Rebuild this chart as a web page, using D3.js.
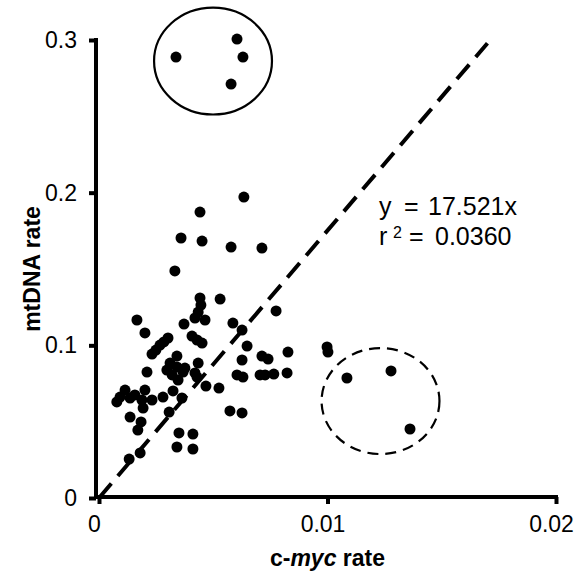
<!DOCTYPE html>
<head>
<meta charset="utf-8">
<title>mtDNA vs c-myc</title>
<style>
  body { margin: 0; background: #fff; }
  svg text { font-family: Arial, "Liberation Sans", sans-serif; fill: #000; }
</style>
</head>
<body>
<div id="chart"></div>

<script src="https://d3js.org/d3.v7.min.js"></script>
<script>
// c-myc rate (x) and mtDNA rate (y) for each sample
const cmycRate = [
  0.00337, 0.00604, 0.00630, 0.00578,
  0.00634, 0.00442, 0.00359, 0.00451, 0.00578, 0.00713, 0.00332,
  0.00442, 0.00446, 0.00434, 0.00420, 0.00464, 0.00530, 0.00166, 0.00201, 0.00372, 0.00586,
  0.00626, 0.00775, 0.00407, 0.00451, 0.00429, 0.00302, 0.00284, 0.00267, 0.00249, 0.00648,
  0.00827, 0.00713, 0.00740, 0.00626, 0.00232, 0.00341, 0.00434, 0.00311, 0.00341, 0.00376,
  0.00297, 0.00210, 0.00604, 0.00630, 0.00705, 0.00727, 0.00765, 0.00823, 0.00320, 0.00346,
  0.00420, 0.00429, 0.00468, 0.00525, 0.00114, 0.00201, 0.00092, 0.00078, 0.00136, 0.00157,
  0.00188, 0.00232, 0.00193, 0.00280, 0.00324, 0.00363, 0.00136, 0.00184, 0.00170, 0.00307,
  0.00573, 0.00626, 0.00350, 0.00411, 0.00341, 0.00411, 0.00180, 0.00132, 0.00368,
  0.00998, 0.01002, 0.01085, 0.01278, 0.01361
];
const mtdnaRate = [
  0.2888, 0.3006, 0.2888, 0.2711,
  0.1971, 0.1873, 0.1703, 0.1683, 0.1644, 0.1637, 0.1487,
  0.1310, 0.1264, 0.1218, 0.1179, 0.1166, 0.1303, 0.1166, 0.1081, 0.1139, 0.1146,
  0.1100, 0.1225, 0.1061, 0.1015, 0.1035, 0.1048, 0.1022, 0.1002, 0.0969, 0.0995,
  0.0956, 0.0930, 0.0910, 0.0904, 0.0943, 0.0930, 0.0884, 0.0884, 0.0858, 0.0851,
  0.0838, 0.0825, 0.0806, 0.0792, 0.0806, 0.0806, 0.0812, 0.0819, 0.0806, 0.0773,
  0.0819, 0.0792, 0.0733, 0.0720, 0.0707, 0.0707, 0.0661, 0.0629, 0.0655, 0.0675,
  0.0642, 0.0642, 0.0589, 0.0661, 0.0701, 0.0655, 0.0530, 0.0498, 0.0445, 0.0563,
  0.0570, 0.0557, 0.0426, 0.0419, 0.0334, 0.0321, 0.0295, 0.0255, 0.0825,
  0.0989, 0.0956, 0.0786, 0.0832, 0.0452
];

const xTicks = [0, 0.01, 0.02];
const yTicks = [0, 0.1, 0.2, 0.3];

// regression through the origin
const slope = 17.521;
const fitEnd = 0.017;
const r2Text = "0.0360";

// outlier groups (centre x, centre y, half-width, half-height in data units)
const groupCentreX = [0.00499, 0.01232];
const groupCentreY = [0.2862, 0.0635];
const groupHalfW = [0.00258, 0.00258];
const groupHalfH = [0.0350, 0.0347];
const groupDashed = [false, true];

const W = 579, H = 574;
const margin = { top: 40, right: 23, bottom: 76, left: 99 };

const svg = d3.select("#chart").append("svg")
  .attr("width", W).attr("height", H);

const x = d3.scaleLinear().domain([0, 0.02]).range([margin.left, W - margin.right]);
const y = d3.scaleLinear().domain([0, 0.3]).range([H - margin.bottom, margin.top]);

const yAxisX = x(0) - 3;

//
// axes
//
const xAxis = svg.append("g")
  .attr("transform", `translate(0,${y(0) - 1})`)
  .call(d3.axisBottom(x).tickValues(xTicks).tickSize(7).tickSizeOuter(0).tickPadding(12)
    .tickFormat(d => d === 0 ? "0" : d3.format(".2")(d)));

const yAxis = svg.append("g")
  .attr("transform", `translate(${yAxisX},0)`)
  .call(d3.axisLeft(y).tickValues(yTicks).tickSize(7).tickSizeOuter(0).tickPadding(12)
    .tickFormat(d => d === 0 ? "0" : d3.format(".1")(d)));

[xAxis, yAxis].forEach(g => {
  g.select(".domain").remove();
  g.selectAll(".tick line").attr("stroke", "#000").attr("stroke-width", 4);
  g.selectAll(".tick text").attr("font-size", 23).attr("fill", "#000")
    .style("font-family", "Arial, 'Liberation Sans', sans-serif");
});
xAxis.selectAll(".tick text").attr("dx", -5);

// axis lines, drawn so the corner closes
svg.append("line")
  .attr("x1", yAxisX - 2).attr("x2", x(0.02) + 2)
  .attr("y1", y(0) - 1).attr("y2", y(0) - 1)
  .attr("stroke", "#000").attr("stroke-width", 4);
svg.append("line")
  .attr("x1", yAxisX).attr("x2", yAxisX)
  .attr("y1", y(0) + 1).attr("y2", y(0.3) - 2)
  .attr("stroke", "#000").attr("stroke-width", 4);

// axis titles
svg.append("text")
  .attr("x", x(0.01)).attr("y", 566)
  .attr("text-anchor", "middle")
  .attr("font-size", 23).attr("font-weight", "bold")
  .call(t => {
    t.append("tspan").text("c-");
    t.append("tspan").attr("font-style", "italic").text("myc");
    t.append("tspan").text(" rate");
  });

svg.append("text")
  .attr("transform", `translate(40,${y(0.15)}) rotate(-90)`)
  .attr("text-anchor", "middle")
  .attr("font-size", 23).attr("font-weight", "bold")
  .text("mtDNA rate");

//
// regression line
//
svg.append("line")
  .attr("x1", x(0)).attr("y1", y(0))
  .attr("x2", x(fitEnd)).attr("y2", y(slope * fitEnd))
  .attr("stroke", "#000").attr("stroke-width", 4)
  .attr("stroke-dasharray", "19,10");

const eq = svg.append("text").attr("font-size", 25).attr("y", 215);
eq.append("tspan").attr("x", 379).text("y");
eq.append("tspan").attr("x", 404).text("=");
eq.append("tspan").attr("x", 428).text(`${slope}x`);

const r2 = svg.append("text").attr("font-size", 25).attr("y", 245);
r2.append("tspan").attr("x", 379).text("r");
r2.append("tspan").attr("x", 393).attr("y", 238).attr("font-size", 16).text("2");
r2.append("tspan").attr("x", 409).attr("y", 245).text("=");
r2.append("tspan").attr("x", 435).text(r2Text);

//
// points
//
svg.append("g").selectAll("circle")
  .data(d3.range(cmycRate.length))
  .join("circle")
  .attr("cx", i => x(cmycRate[i]))
  .attr("cy", i => y(mtdnaRate[i]))
  .attr("r", 5.5)
  .attr("fill", "#000");

//
// group ellipses
//
svg.append("g").selectAll("ellipse")
  .data(d3.range(groupCentreX.length))
  .join("ellipse")
  .attr("cx", i => x(groupCentreX[i]))
  .attr("cy", i => y(groupCentreY[i]))
  .attr("rx", i => x(groupHalfW[i]) - x(0))
  .attr("ry", i => y(0) - y(groupHalfH[i]))
  .attr("fill", "none")
  .attr("stroke", "#000")
  .attr("stroke-width", 2.2)
  .attr("stroke-dasharray", i => groupDashed[i] ? "11,7" : null);
</script>
</body>
</html>
